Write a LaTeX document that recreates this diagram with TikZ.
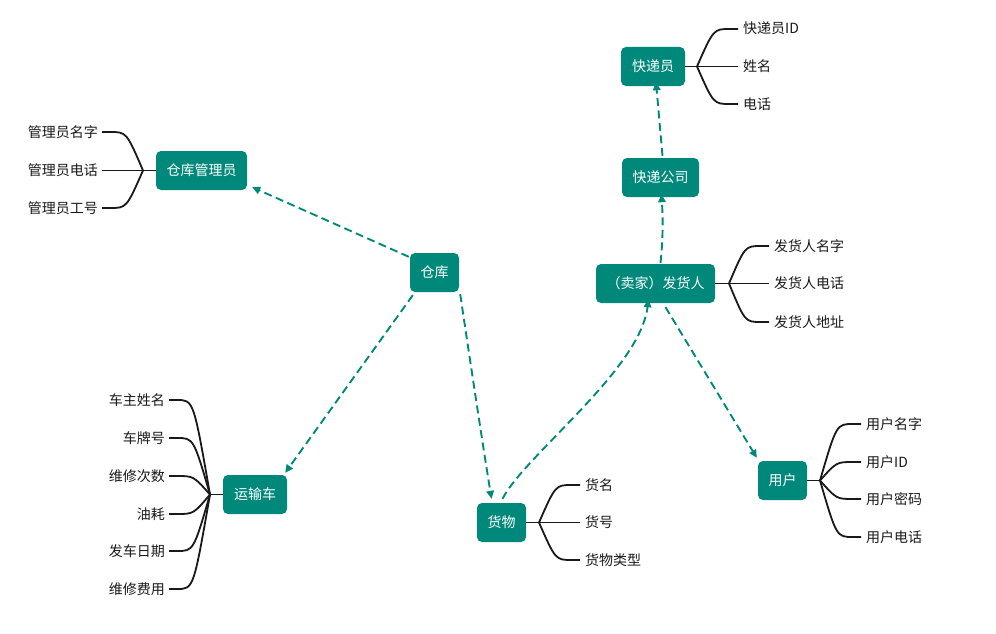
\documentclass[tikz,border=0pt]{standalone}
\usepackage{fontspec}
\setmainfont{Noto Sans CJK SC}
\usetikzlibrary{calc,arrows.meta}
\definecolor{tealc}{RGB}{0,137,123}
\definecolor{inkc}{RGB}{25,25,25}
\newcommand\fs{\fontsize{14}{16}\selectfont}
\begin{document}
\begin{tikzpicture}[x=1pt,y=-1pt,
  box/.style={fill=tealc, rounded corners=5pt, text=white, font=\fs, inner sep=0pt, minimum height=39pt, text height=11pt, text depth=2pt},
  attr/.style={font=\fs, text=inkc, inner sep=0pt, text height=11pt, text depth=1pt},
  link/.style={draw=tealc, line width=1.9pt, dash pattern=on 8pt off 4.5pt, -{Triangle[length=8pt,width=7.5pt]}},
  br/.style={draw=inkc, line width=1.8pt}]
\useasboundingbox (0,0) rectangle (996,634);
% boxes
\node[box, minimum width=91pt] (mgr) at (201.5,170.5) {仓库管理员};
\node[box, minimum width=49pt] (wh) at (434.5,272.5) {仓库};
\node[box, minimum width=64pt] (truck) at (255,494.5) {运输车};
\node[box, minimum width=49pt] (goods) at (501.5,522.5) {货物};
\node[box, minimum width=119pt] (seller) at (655.5,283.5) {（卖家）发货人};
\node[box, minimum width=77pt] (co) at (660.5,177.5) {快递公司};
\node[box, minimum width=64pt] (cour) at (653,66.5) {快递员};
\node[box, minimum width=49pt] (user) at (782.5,480.5) {用户};
% junctions
\coordinate (jm) at (143,170.5);
\coordinate (jt) at (210,494.5);
\coordinate (jc) at (697,66.5);
\coordinate (js) at (729,283.5);
\coordinate (jg) at (539,522.5);
\coordinate (ju) at (820,480.5);
\draw[br] (mgr.west) -- (jm);
\draw[br] (truck.west) -- (jt);
\draw[br] (cour.east) -- (jc);
\draw[br] (seller.east) -- (js);
\draw[br] (goods.east) -- (jg);
\draw[br] (user.east) -- (ju);
% left-side attributes
\foreach \j/\n/\x/\y/\t in {jm/m1/98/132/管理员名字, jm/m2/98/170.5/管理员电话, jm/m3/98/208/管理员工号,
  jt/t1/165/400/车主姓名, jt/t2/165/438/车牌号, jt/t3/165/476/维修次数, jt/t4/165/514/油耗, jt/t5/165/551/发车日期, jt/t6/165/589/维修费用} {
  \node[attr, anchor=east] (\n) at (\x,\y) {\t};
  \coordinate (e) at ($(\n.east)+(4,0)$);
  \coordinate (f) at ($(e)+(8,0)$);
  \coordinate (c) at ($(\j)!0.5!(f)$);
  \draw[br] (\j) .. controls (c |- f) .. (f) -- (e);
}
% right-side attributes
\foreach \j/\n/\x/\y/\t in {jc/c1/743/29/快递员ID, jc/c2/743/66.5/姓名, jc/c3/743/104/电话,
  js/s1/774/246/发货人名字, js/s2/774/283.5/发货人电话, js/s3/774/322/发货人地址,
  jg/g1/585/485/货名, jg/g2/585/522.5/货号, jg/g3/585/560/货物类型,
  ju/u1/866/424/用户名字, ju/u2/866/462/用户ID, ju/u3/866/499/用户密码, ju/u4/866/537/用户电话} {
  \node[attr, anchor=west] (\n) at (\x,\y) {\t};
  \coordinate (e) at ($(\n.west)+(-5,0)$);
  \coordinate (f) at ($(e)+(-8,0)$);
  \coordinate (c) at ($(\j)!0.5!(f)$);
  \draw[br] (\j) .. controls (c |- f) .. (f) -- (e);
}
% links
\draw[link] ($(wh.north west)+(-1,4)$) -- ($(mgr.south east)+(5,-3)$);
\draw[link] ($(wh.south west)+(3,3)$) -- ($(truck.north east)+(-2,-2)$);
\draw[link] ($(wh.south east)+(1,2)$) .. controls (470,360) and (482,440) .. ($(goods.north)+(-10,-4)$);
\draw[link] ($(goods.north)+(1,-4)$) .. controls (525,455) and (640,370) .. ($(seller.south)+(-7,-4)$);
\draw[link] ($(seller.north)+(5,-1)$) .. controls (663,240) and (663,220) .. ($(co.south)+(1,-3)$);
\draw[link] ($(co.north)+(2,-2)$) -- ($(cour.south)+(3,-4)$);
\draw[link] ($(seller.south)+(10,4)$) -- ($(user.north west)+(-1,-3)$);
\end{tikzpicture}
\end{document}
